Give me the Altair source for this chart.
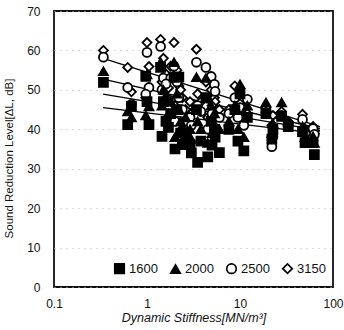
import altair as alt
import pandas as pd

# Dynamic stiffness of each specimen [MN/m^3]
stiffness = [0.34, 0.62, 0.68, 1.0, 1.05, 0.97, 1.4, 1.5, 1.45, 1.7, 1.95, 2.1, 2.2, 2.4, 2.3,
             2.9, 3.4, 3.5, 4.3, 4.9, 5.3, 5.4, 6.0, 5.0, 7.6, 8.8, 10.0, 12.0, 11.0, 9.5,
             19.0, 22.6, 22.0, 28.0, 33.0, 47.0, 50.0, 61.0, 63.0, 2.0, 3.0, 3.8, 4.5, 2.6,
             1.8, 1.6]
# Sound reduction level [dB] per frequency band
lv3150 = [60.0, 55.7, 49.5, 62.0, 55.9, 48.0, 62.8, 58.0, 52.0, 50.5, 62.0, 55.0, 51.0, 48.0, 50.0,
          47.0, 60.3, 49.0, 52.0, 50.0, 48.0, 47.0, 45.0, 46.0, 45.0, 51.0, 46.5, 44.0, 42.0, 44.0,
          45.5, 43.5, 41.0, 44.5, 42.0, 43.8, 40.0, 40.7, 39.5, 46.0, 44.0, 47.0, 43.0, 45.0,
          56.0, 54.0]
lv2500 = [58.3, 50.6, 46.3, 59.5, 50.6, 48.9, 61.0, 53.0, 50.0, 47.5, 56.0, 52.0, 48.0, 45.0, 39.2,
          43.0, 57.0, 46.0, 55.7, 53.4, 51.4, 49.6, 43.0, 44.0, 44.0, 48.0, 45.5, 47.6, 41.0, 43.0,
          44.3, 38.2, 35.6, 43.5, 41.5, 42.5, 39.0, 40.2, 38.7, 42.0, 41.0, 44.5, 40.0, 39.2,
          53.0, 51.5]
lv2000 = [54.7, 44.5, 43.0, 53.9, 45.8, 43.5, 57.0, 50.0, 46.0, 44.0, 57.0, 49.0, 45.0, 41.0, 42.0,
          40.0, 53.2, 42.0, 53.0, 46.0, 44.0, 41.0, 40.0, 39.0, 42.0, 46.0, 51.4, 46.0, 38.0, 40.0,
          46.8, 41.5, 39.0, 46.8, 42.0, 40.7, 38.0, 38.2, 36.5, 38.0, 37.5, 40.0, 36.5, 43.0,
          47.0, 48.5]
lv1600 = [51.9, 41.2, 45.8, 47.0, 41.2, 53.4, 55.7, 47.0, 38.2, 40.5, 53.2, 45.0, 53.2, 36.1, 39.0,
          36.1, 45.0, 31.6, 48.0, 42.0, 40.0, 38.0, 34.1, 36.0, 40.0, 45.0, 49.0, 43.0, 34.5, 37.0,
          44.0, 40.0, 37.5, 43.3, 40.7, 39.4, 36.6, 36.6, 33.6, 35.0, 34.0, 37.0, 33.0, 38.0,
          44.0, 42.0]

# Regression lines (start / end)
fit_x = [0.337, 72.5]
fit3150 = [58.0, 40.7]
fit2500 = [52.7, 40.2]
fit2000 = [48.9, 39.7]
fit1600 = [45.5, 38.9]

freqs = ["1600", "2000", "2500", "3150"]
series = {"3150": lv3150, "2500": lv2500, "2000": lv2000, "1600": lv1600}
fits = {"3150": fit3150, "2500": fit2500, "2000": fit2000, "1600": fit1600}

rows = []
for f in ["3150", "2500", "2000", "1600"]:
    for x, y in zip(stiffness, series[f]):
        rows.append({"x": x, "y": y, "freq": f})
pts = pd.DataFrame(rows)

lrows = []
for f in freqs:
    for x, y in zip(fit_x, fits[f]):
        lrows.append({"x": x, "y": y, "freq": f})
lines_df = pd.DataFrame(lrows)

FONT = "Liberation Sans"

xscale = alt.Scale(type="log", domain=[0.1, 100])
yscale = alt.Scale(domain=[0, 70])

xaxis = alt.Axis(values=[0.1, 1, 10, 100], labelExpr="datum.value < 1 ? '0.1' : format(datum.value, 'd')",
                 title="Dynamic Stiffness[MN/m³]", titleFontStyle="italic", titleFontWeight="normal",
                 titleFontSize=12.5, labelFontSize=12, ticks=False, tickSize=0, domain=False,
                 grid=False, labelPadding=11, titlePadding=2, labelColor="#111", titleColor="#111",
                 labelFont=FONT, titleFont=FONT, labelFlush=False, labelOverlap=False)
yaxis = alt.Axis(values=[0, 10, 20, 30, 40, 50, 60, 70], title="Sound Reduction Level[ΔL, dB]",
                 titleFontWeight="normal", titleFontSize=11.5, labelFontSize=12, ticks=False,
                 tickSize=0, domain=False, grid=True, gridColor="#bbbbbb", gridDash=[1, 5],
                 gridWidth=1, labelPadding=14, titlePadding=12, titleY=147,
                 labelColor="#111", titleColor="#111", labelFont=FONT, titleFont=FONT,
                 labelFlush=False, labelOverlap=False)

lines = alt.Chart(lines_df).mark_line(color="black", strokeWidth=1.3).encode(
    x=alt.X("x:Q", scale=xscale, axis=xaxis),
    y=alt.Y("y:Q", scale=yscale, axis=yaxis),
    detail="freq:N",
)

legend = alt.Legend(title=None, orient="none", legendX=59, legendY=251, direction="horizontal",
                    symbolSize=90, symbolStrokeWidth=1.7, symbolStrokeColor="black",
                    labelFontSize=13, labelFont=FONT, labelColor="#111", labelOffset=3,
                    columnPadding=9, padding=0)

points = alt.Chart(pts).mark_point(filled=True, strokeWidth=1.8, opacity=1,
                                   fillOpacity=1, size=80).encode(
    x=alt.X("x:Q", scale=xscale, axis=xaxis),
    y=alt.Y("y:Q", scale=yscale, axis=yaxis),
    shape=alt.Shape("freq:N", scale=alt.Scale(domain=freqs,
                    range=["square", "triangle-up", "circle", "diamond"]), legend=legend),
    fill=alt.Fill("freq:N", scale=alt.Scale(domain=freqs,
                  range=["black", "black", "white", "white"]), legend=legend),
    stroke=alt.Stroke("freq:N", scale=alt.Scale(domain=freqs,
                      range=["black", "black", "black", "black"]), legend=legend),
)

chart = alt.layer(lines, points).properties(
    width=279, height=276,
    autosize=alt.AutoSizeParams(type="none"),
    padding={"left": 54, "top": 11, "right": 11, "bottom": 43},
    background="white",
).configure_view(stroke="#111", strokeWidth=1.8)

chart.save("out.html", embed_options={"renderer": "svg", "actions": False})
